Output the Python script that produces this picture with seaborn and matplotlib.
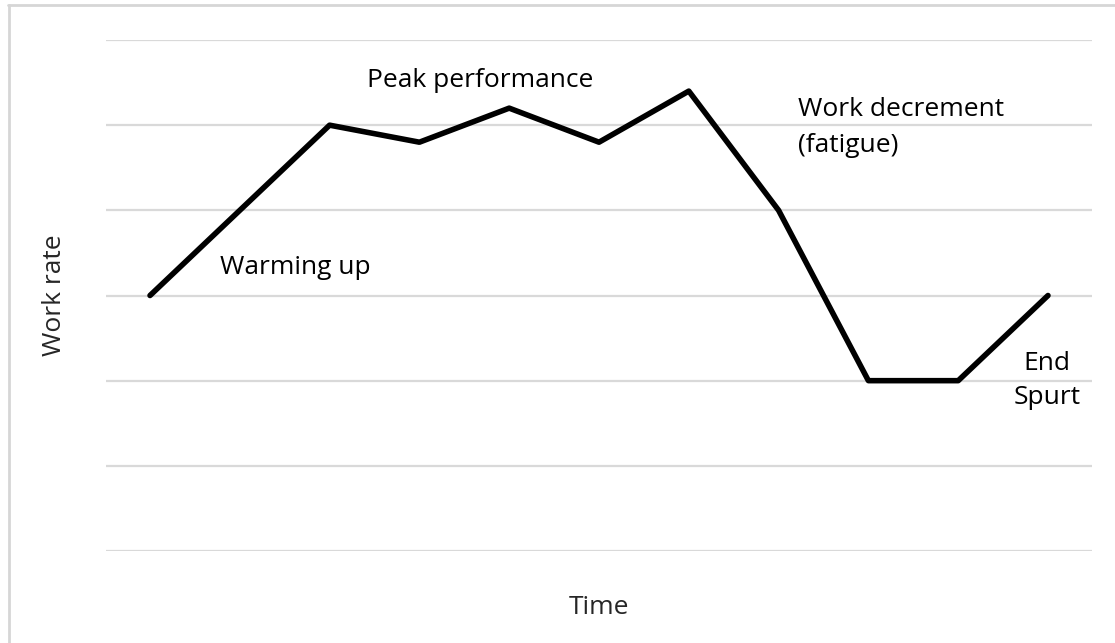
import matplotlib
matplotlib.use("Agg")
import matplotlib.pyplot as plt
from matplotlib.lines import Line2D
import numpy as np
import pandas as pd
import seaborn as sns

# work rate over time (arbitrary units)
time_steps = list(range(11))
work_rate = [3.0, 4.0, 5.0, 4.8, 5.2, 4.8, 5.4, 4.0, 2.0, 2.0, 3.0]
grid_levels = [0, 1, 2, 3, 4, 5, 6]

phase_labels = ["Peak performance", "Warming up", "Work decrement\n(fatigue)", "End\nSpurt"]

data = pd.DataFrame({"time": time_steps, "work_rate": work_rate})

sns.set_style("white")
plt.rcParams["font.family"] = ["Open Sans", "DejaVu Sans"]

fig = plt.figure(figsize=(11.15, 6.43), dpi=100)
ax = fig.add_axes([106 / 1115, 92 / 643, 986 / 1115, 511 / 643])

sns.lineplot(data=data, x="time", y="work_rate", color="black", linewidth=4, ax=ax)

ax.set_xlim(-0.49, 10.49)
ax.set_ylim(0, 6)
ax.set_yticks(grid_levels)
ax.yaxis.grid(True, color="#d9d9d9", linewidth=1.6)
ax.set_axisbelow(True)
ax.tick_params(left=False, bottom=False, labelleft=False, labelbottom=False)
for side in ["top", "right", "left", "bottom"]:
    ax.spines[side].set_visible(False)

fs = 19
ax.set_xlabel("Time", fontsize=fs, labelpad=32)
ax.set_ylabel("Work rate", fontsize=fs, labelpad=28)

txt = dict(fontsize=fs, color="black")
ax.text(2.42, 5.53, phase_labels[0], ha="left", va="center", **txt)
ax.text(0.78, 3.33, phase_labels[1], ha="left", va="center", **txt)
ax.text(7.22, 4.97, phase_labels[2], ha="left", va="center", linespacing=1.6, **txt)
ax.text(9.99, 2.0, phase_labels[3], ha="center", va="center", linespacing=1.5, **txt)

# light frame around the picture
fig.add_artist(Line2D([8 / 1115, 1], [1 - 5 / 643, 1 - 5 / 643], transform=fig.transFigure,
                      color="#d6d6d6", linewidth=2))
fig.add_artist(Line2D([9 / 1115, 9 / 1115], [0, 1 - 5 / 643], transform=fig.transFigure,
                      color="#d6d6d6", linewidth=2))

fig.savefig("out.png", dpi=100, facecolor="white")
